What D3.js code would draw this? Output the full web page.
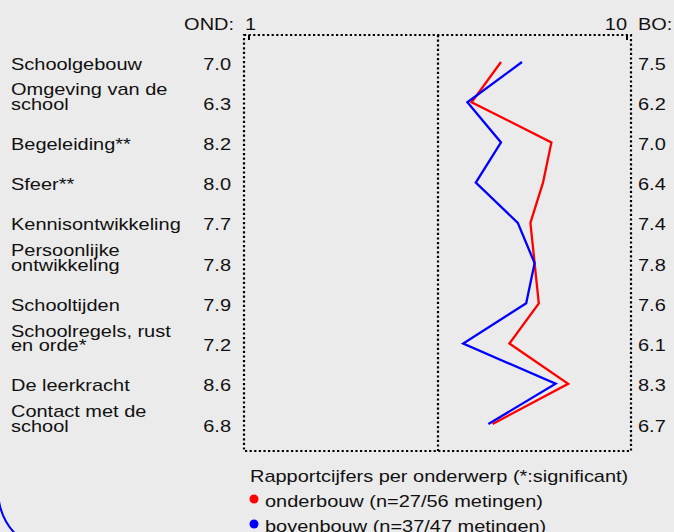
<!DOCTYPE html>
<html>
<head>
<meta charset="utf-8">
<script src="https://cdn.jsdelivr.net/npm/d3@7"></script>
<style>
  body { margin: 0; background: #ebebeb; }
  svg { display: block; }
  text { font-family: "Liberation Sans", Arial, sans-serif; font-size: 17px; fill: #111; }
</style>
</head>
<body>
<div class="container"></div>
<script>
// data
const topics = ['Schoolgebouw', 'Omgeving van de school', 'Begeleiding**', 'Sfeer**',
  'Kennisontwikkeling', 'Persoonlijke ontwikkeling', 'Schooltijden',
  'Schoolregels, rust en orde*', 'De leerkracht', 'Contact met de school']
// labels split over two lines like the original
const topicLines = [['Schoolgebouw'], ['Omgeving van de', 'school'], ['Begeleiding**'], ['Sfeer**'],
  ['Kennisontwikkeling'], ['Persoonlijke', 'ontwikkeling'], ['Schooltijden'],
  ['Schoolregels, rust', 'en orde*'], ['De leerkracht'], ['Contact met de', 'school']]
const ond = [7.0, 6.3, 8.2, 8.0, 7.7, 7.8, 7.9, 7.2, 8.6, 6.8]
const bo = [7.5, 6.2, 7.0, 6.4, 7.4, 7.8, 7.6, 6.1, 8.3, 6.7]
const scaleTicks = [1, 10]
const legendItems = ['onderbouw (n=27/56 metingen)', 'bovenbouw (n=37/47 metingen)']
const legendColors = ['#ff0000', '#0000ff']

const W = 674, H = 532
const sx = 1.175 // text in the picture is a bit wide

const svg = d3.select('.container')
  .append('svg')
  .attr('width', W)
  .attr('height', H)

svg.append('rect').attr('width', W).attr('height', H).attr('fill', '#ebebeb')

const x = d3.scaleLinear().domain([1, 10]).range([249, 627])
const y = d3.scalePoint().domain(topics).range([62, 424])

const frame = { l: 244, r: 631, t: 35, b: 451 }

function txt(g, s, tx, ty, anchor) {
  return g.append('text')
    .attr('transform', `translate(${tx},${ty}) scale(${sx},1)`)
    .attr('text-anchor', anchor || 'start')
    .text(s)
}

// dotted frame + middle line
const dots = { stroke: '#000', 'stroke-width': 2.2, 'stroke-dasharray': '2.2,2.4', fill: 'none' }
const fr = svg.append('rect')
  .attr('x', frame.l).attr('y', frame.t)
  .attr('width', frame.r - frame.l).attr('height', frame.b - frame.t)
Object.entries(dots).forEach(([k, v]) => fr.attr(k, v))
const mid = svg.append('line')
  .attr('x1', x(5.5)).attr('x2', x(5.5))
  .attr('y1', frame.t).attr('y2', frame.b)
Object.entries(dots).forEach(([k, v]) => mid.attr(k, v))

// small ticks at 1 and 10
svg.selectAll('.tick')
  .data(scaleTicks)
  .join('line')
  .attr('x1', d => x(d)).attr('x2', d => x(d))
  .attr('y1', frame.t).attr('y2', frame.t + 5)
  .attr('stroke', '#000').attr('stroke-width', 2)

// top labels
txt(svg, 'OND:', 234, 30, 'end')
txt(svg, scaleTicks[0], x(scaleTicks[0]) - 4, 30, 'start')
txt(svg, scaleTicks[1], x(scaleTicks[1]), 30, 'end')
txt(svg, 'BO:', 638, 30, 'start')

// topic labels and values
topics.forEach((t, i) => {
  const yy = y(t)
  const lines = topicLines[i]
  if (lines.length === 1) {
    txt(svg, lines[0], 11, yy + 7.5)
  } else {
    txt(svg, lines[0], 11, yy - 7)
    txt(svg, lines[1], 11, yy + 7.5)
  }
  txt(svg, ond[i].toFixed(1), 231, yy + 7.5, 'end')
  txt(svg, bo[i].toFixed(1), 638, yy + 7.5, 'start')
})

// lines
const line = d3.line()
  .x(d => x(d.v))
  .y(d => y(d.t))
const series = [ond, bo]
series.forEach((s, k) => {
  svg.append('path')
    .datum(s.map((v, i) => ({ v: v, t: topics[i] })))
    .attr('d', line)
    .attr('fill', 'none')
    .attr('stroke', legendColors[k])
    .attr('stroke-width', 2.3)
    .attr('stroke-linejoin', 'miter')
})

// legend
txt(svg, 'Rapportcijfers per onderwerp (*:significant)', 250, 482)
legendItems.forEach((s, i) => {
  const base = 507 + i * 25
  svg.append('circle')
    .attr('cx', 254).attr('cy', base - 8).attr('r', 4.5)
    .attr('fill', legendColors[i])
  txt(svg, s, 265, base)
})

// bit of a blue arc peeking in at the bottom left
const arcPath = d3.path()
arcPath.arc(62, 490, 64, Math.PI * 0.97, Math.PI * 0.72, true)
svg.append('path')
  .attr('d', arcPath.toString())
  .attr('fill', 'none').attr('stroke', '#0000ff').attr('stroke-width', 2)
</script>
</body>
</html>
